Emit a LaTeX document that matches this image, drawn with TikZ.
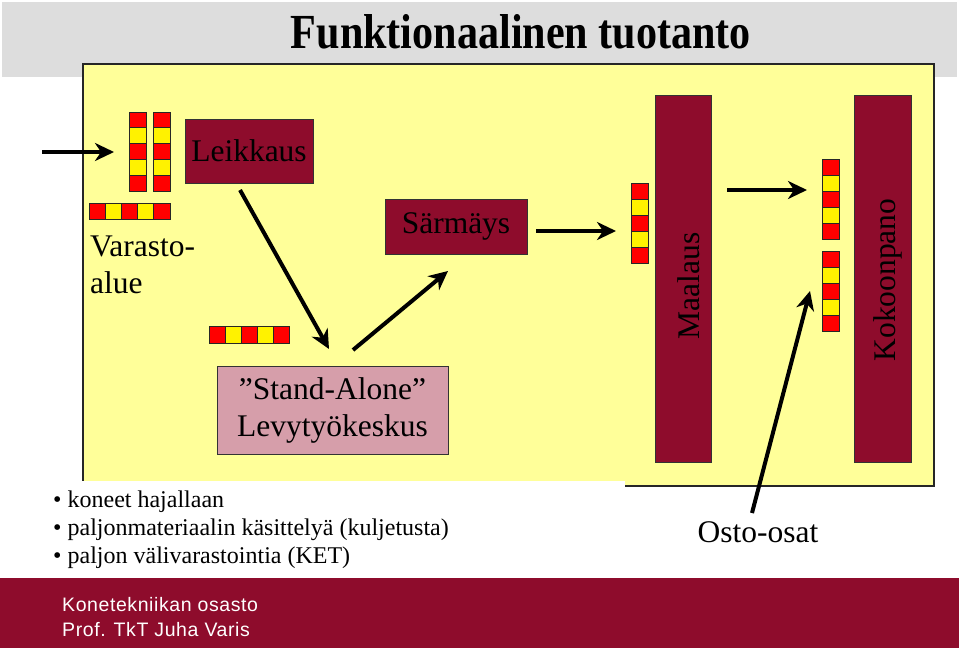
\documentclass[tikz,border=0pt]{standalone}
\usepackage{fontspec}
\setmainfont{Liberation Serif}
\newfontfamily\footerfont[LetterSpace=3]{Liberation Sans}
\usepackage{graphicx}
\usetikzlibrary{arrows.meta}

\definecolor{viini}{RGB}{142,12,44}
\definecolor{vaalkelta}{RGB}{255,255,153}
\definecolor{roosa}{RGB}{214,158,170}
\definecolor{harmaa}{RGB}{221,221,221}

\begin{document}
\begin{tikzpicture}[
    x=1pt, y=-1pt,
    machine/.style={draw=black!80, line width=1pt, fill=viini, inner sep=0pt, font=\fontsize{31.5}{37}\selectfont},
    bar/.style={draw=black!80, line width=1pt, fill=viini},
    label/.style={inner sep=0pt, font=\fontsize{31.5}{37}\selectfont},
    bullet/.style={inner sep=0pt, anchor=base west, font=\fontsize{24}{28}\selectfont},
    cell/.style={draw=black!85, line width=0.8pt},
    flow/.style={line width=4pt, -{Stealth[length=19pt, width=18pt, inset=6pt]}},
    footer/.style={inner sep=0pt, anchor=base west, text=white, font=\footerfont\fontsize{19.5}{24}\selectfont}
]
\useasboundingbox (0,0) rectangle (959,648);

% --- Otsikko ---
\fill[harmaa] (2,2) rectangle (957,77);
\node[inner sep=0pt, font=\bfseries\fontsize{49}{55}\selectfont] (otsikko) at (521,32)
    {\scalebox{0.86}[1]{Funktionaalinen tuotanto}};

% --- Tehdas ---
\filldraw[fill=vaalkelta, draw=black!85, line width=1.2pt] (83,64) rectangle (934,486);
\fill[white] (30,481) rectangle (625,575);

% --- Koneet ---
\node[machine, minimum width=128pt, minimum height=64pt] (leikkaus) at (249,151) {Leikkaus};
\node[machine, minimum width=142pt, minimum height=55pt] (sarmays) at (456,226.5) {Särmäys};
\node[machine, fill=roosa, minimum width=231pt, minimum height=88pt, align=center] (levy) at (332.5,410)
    {”Stand-Alone”\\Levytyökeskus};

\node[bar, minimum width=56pt, minimum height=367pt] (maalaus) at (683,278.5) {};
\node[bar, minimum width=57pt, minimum height=367pt] (kokoonpano) at (882.5,278.5) {};
\node[label, rotate=90] (maalaus_lbl) at (689,286) {Maalaus};
\node[label, rotate=90] (kokoonpano_lbl) at (888,280) {Kokoonpano};

% --- Varasto ---
\node[label, anchor=north west, align=left] (varasto) at (90,236) {Varasto-\\alue};

% --- Kappaleet ---
\foreach \i/\c in {0/red,1/yellow,2/red,3/yellow,4/red} {
  \filldraw[cell, fill=\c] (129,{112+15.8*\i}) rectangle ++(17,15.8);
  \filldraw[cell, fill=\c] (153,{112+15.8*\i}) rectangle ++(17,15.8);
  \filldraw[cell, fill=\c] ({89+16.2*\i},203) rectangle ++(16.2,16);
  \filldraw[cell, fill=\c] ({209+16*\i},326) rectangle ++(16,17);
  \filldraw[cell, fill=\c] (631,{183+16*\i}) rectangle ++(17,16);
  \filldraw[cell, fill=\c] (822,{159+16*\i}) rectangle ++(17,16);
  \filldraw[cell, fill=\c] (822,{251+16*\i}) rectangle ++(17,16);
}

% --- Nuolet ---
\coordinate (sisaan) at (42,152);
\coordinate (sisaan_k) at (114,152);
\coordinate (leik_ala) at (240,190);
\coordinate (levy_yla1) at (329,349);
\coordinate (levy_yla2) at (353,350);
\coordinate (sarm_ala) at (448,271);
\coordinate (sarm_oik) at (536,231);
\coordinate (maal_vas) at (616,231);
\coordinate (maal_oik) at (727,190);
\coordinate (kok_vas) at (807,190);
\coordinate (osto_yla) at (752,513);
\coordinate (kok_ala) at (810,291);

\draw[flow] (sisaan) -- (sisaan_k);
\draw[flow] (leik_ala) -- (levy_yla1);
\draw[flow] (levy_yla2) -- (sarm_ala);
\draw[flow] (sarm_oik) -- (maal_vas);
\draw[flow] (maal_oik) -- (kok_vas);
\draw[flow] (osto_yla) -- (kok_ala);

\node[label, anchor=base] (osto) at (758,542) {Osto-osat};

% --- Huomiot ---
\node[bullet] (huom1) at (53,507) {\textbullet\ koneet hajallaan};
\node[bullet] (huom2) at (53,535) {\textbullet\ paljonmateriaalin käsittelyä (kuljetusta)};
\node[bullet] (huom3) at (53,563) {\textbullet\ paljon välivarastointia (KET)};

% --- Alapalkki ---
\fill[viini] (0,578) rectangle (959,648);
\node[footer] (osasto) at (62,611) {Konetekniikan osasto};
\node[footer] (prof) at (62,636) {Prof. TkT Juha Varis};

\end{tikzpicture}
\end{document}
